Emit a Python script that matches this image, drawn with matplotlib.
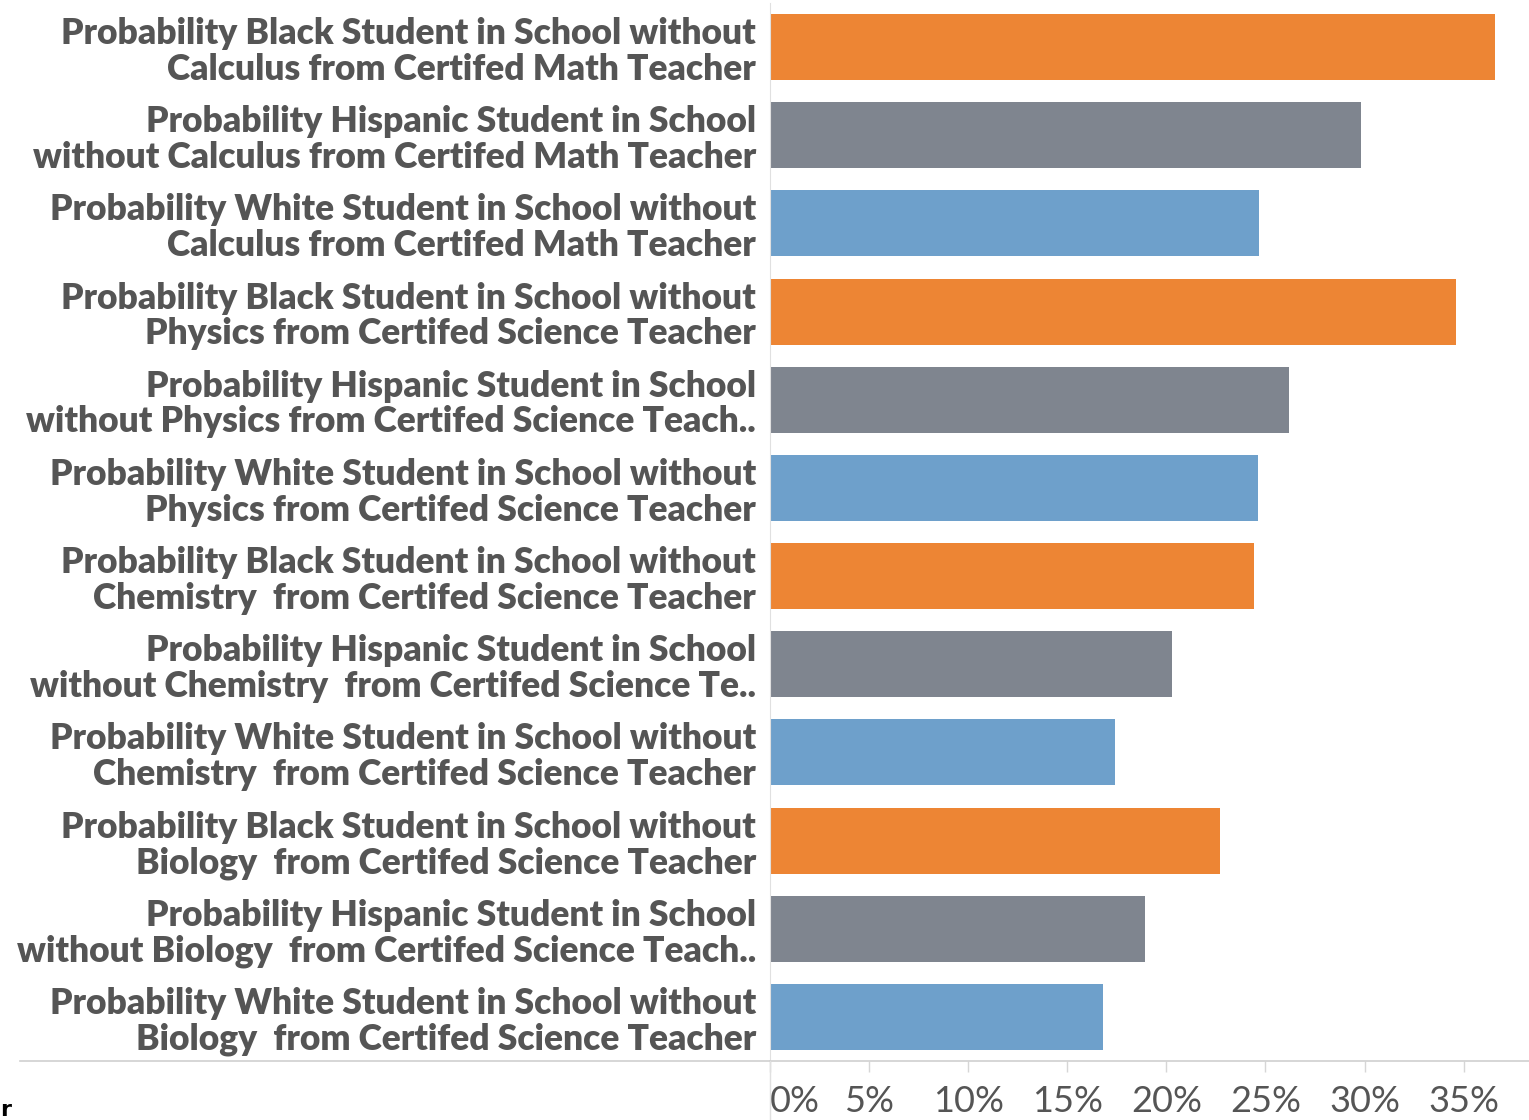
import matplotlib.pyplot as plt
from matplotlib.lines import Line2D

# data (percent)
labels = [
    "Probability Black Student in School without\nCalculus from Certifed Math Teacher",
    "Probability Hispanic Student in School\nwithout Calculus from Certifed Math Teacher",
    "Probability White Student in School without\nCalculus from Certifed Math Teacher",
    "Probability Black Student in School without\nPhysics from Certifed Science Teacher",
    "Probability Hispanic Student in School\nwithout Physics from Certifed Science Teach..",
    "Probability White Student in School without\nPhysics from Certifed Science Teacher",
    "Probability Black Student in School without\nChemistry  from Certifed Science Teacher",
    "Probability Hispanic Student in School\nwithout Chemistry  from Certifed Science Te..",
    "Probability White Student in School without\nChemistry  from Certifed Science Teacher",
    "Probability Black Student in School without\nBiology  from Certifed Science Teacher",
    "Probability Hispanic Student in School\nwithout Biology  from Certifed Science Teach..",
    "Probability White Student in School without\nBiology  from Certifed Science Teacher",
]
values = [36.6, 29.8, 24.7, 34.6, 26.2, 24.6, 24.4, 20.3, 17.4, 22.7, 18.9, 16.8]
groups = ["Black", "Hispanic", "White"] * 4
group_colors = {"Black": "#ED8534", "Hispanic": "#7F858F", "White": "#6EA0CB"}
xticks = [0, 5, 10, 15, 20, 25, 30, 35]

fig = plt.figure(figsize=(15.29, 11.2), dpi=100)
ax = fig.add_axes([770 / 1529, 1 - 1061 / 1120, 1 - 770 / 1529, (1061 - 3) / 1120])

ypos = list(range(len(values)))
ax.barh(ypos, values, height=0.75, color=[group_colors[g] for g in groups])
ax.set_ylim(len(values) - 0.5, -0.5)
ax.set_xlim(0, 38.3)

ax.set_yticks(ypos)
ax.set_yticklabels(labels, fontfamily="Lato", fontweight="heavy", fontsize=25.5,
                   color="#555555", linespacing=1.1)
ax.tick_params(axis="y", length=0, pad=10)

ax.set_xticks(xticks)
ax.set_xticklabels([f"{t}%" for t in xticks], fontfamily="Lato", fontsize=26,
                   color="#555555")
ax.get_xticklabels()[0].set_horizontalalignment("left")
ax.tick_params(axis="x", length=8, width=1, color="#d6d6d6", pad=9)

for s in ["top", "right"]:
    ax.spines[s].set_visible(False)
ax.spines["left"].set_color("#e0e0e0")
ax.spines["bottom"].set_color("#d0d0d0")
ax.spines["bottom"].set_linewidth(1.2)

# divider extending under the labels, and the axis line down through the tick area
y_axis = 1 - 1061 / 1120
fig.add_artist(Line2D([20 / 1529, 770 / 1529], [y_axis, y_axis], color="#d0d0d0", lw=1.2))
fig.add_artist(Line2D([770 / 1529, 770 / 1529], [0, y_axis], color="#e0e0e0", lw=1))

# clipped stray glyph at the bottom-left corner of the source image
fig.text(0.0, 0.0, "r", fontsize=16, fontweight="bold", color="black", ha="left", va="bottom")

fig.savefig("out.png", dpi=100)
